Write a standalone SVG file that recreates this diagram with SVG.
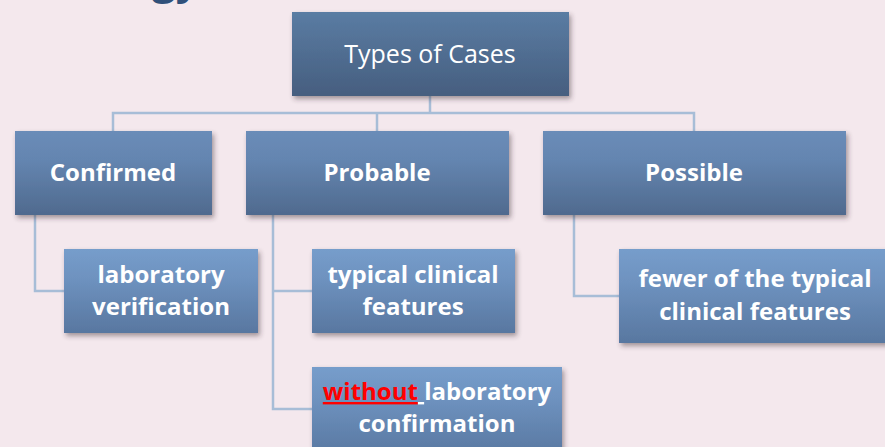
<svg xmlns="http://www.w3.org/2000/svg" width="885" height="447" viewBox="0 0 885 447">
<defs>
<linearGradient id="gTop" x1="0" y1="0" x2="0" y2="1"><stop offset="0" stop-color="#5a7ca3"/><stop offset="1" stop-color="#465e7f"/></linearGradient>
<linearGradient id="gMid" x1="0" y1="0" x2="0" y2="1"><stop offset="0" stop-color="#6a8cb8"/><stop offset="0.35" stop-color="#6485b0"/><stop offset="1" stop-color="#4f6a8e"/></linearGradient>
<linearGradient id="gLow" x1="0" y1="0" x2="0" y2="1"><stop offset="0" stop-color="#769dcb"/><stop offset="0.35" stop-color="#6e92bf"/><stop offset="1" stop-color="#5877a0"/></linearGradient>
<filter id="sh" x="-10%" y="-10%" width="125%" height="130%"><feDropShadow dx="2" dy="3" stdDeviation="2.5" flood-color="#3a2a30" flood-opacity="0.45"/></filter>
</defs>
<style>
.bg{fill:#f4e8ed}
.con{fill:none;stroke:#a7bdd7;stroke-width:2.5}
.box{filter:url(#sh)}
.t{font-family:"Open Sans","Liberation Sans",sans-serif;fill:#ffffff;text-anchor:middle}
.b{font-weight:bold;font-size:24px}
</style>
<rect class="bg" x="0" y="0" width="885" height="447"/>
<text x="152" y="-6" font-family="Open Sans, Liberation Sans, sans-serif" font-weight="bold" font-size="42" fill="#30507a">gy</text>
<g id="connectors">
<path class="con" d="M430 96 V113 M113 131 V113 H694 V131 M377 113 V131"/>
<path class="con" d="M35 215 V291 H64"/>
<path class="con" d="M273 215 V409 H312 M273 291 H312"/>
<path class="con" d="M574 215 V296 H619"/>
</g>
<g id="types">
<rect class="box" x="292" y="12" width="277" height="84" fill="url(#gTop)"/>
<text class="t" x="430" y="63" font-size="25">Types of Cases</text>
</g>
<g id="confirmed">
<rect class="box" x="15" y="131" width="197" height="84" fill="url(#gMid)"/>
<text class="t b" x="113" y="181">Confirmed</text>
</g>
<g id="probable">
<rect class="box" x="246" y="131" width="263" height="84" fill="url(#gMid)"/>
<text class="t b" x="377" y="181">Probable</text>
</g>
<g id="possible">
<rect class="box" x="543" y="131" width="303" height="84" fill="url(#gMid)"/>
<text class="t b" x="694" y="181">Possible</text>
</g>
<g id="labverif">
<rect class="box" x="64" y="249" width="194" height="84" fill="url(#gLow)"/>
<text class="t b" x="161" y="283">laboratory</text>
<text class="t b" x="161" y="315">verification</text>
</g>
<g id="typical">
<rect class="box" x="312" y="249" width="203" height="84" fill="url(#gLow)"/>
<text class="t b" x="413" y="283">typical clinical</text>
<text class="t b" x="413" y="315">features</text>
</g>
<g id="without">
<rect class="box" x="312" y="367" width="250" height="90" fill="url(#gLow)"/>
<text class="t b" x="437" y="400"><tspan fill="#ff0000" text-decoration="underline">without</tspan><tspan text-decoration="underline"> </tspan>laboratory</text>
<text class="t b" x="437" y="432">confirmation</text>
</g>
<g id="fewer">
<rect class="box" x="619" y="249" width="280" height="94" fill="url(#gLow)"/>
<text class="t b" x="755" y="287">fewer of the typical</text>
<text class="t b" x="755" y="320">clinical features</text>
</g>
</svg>
